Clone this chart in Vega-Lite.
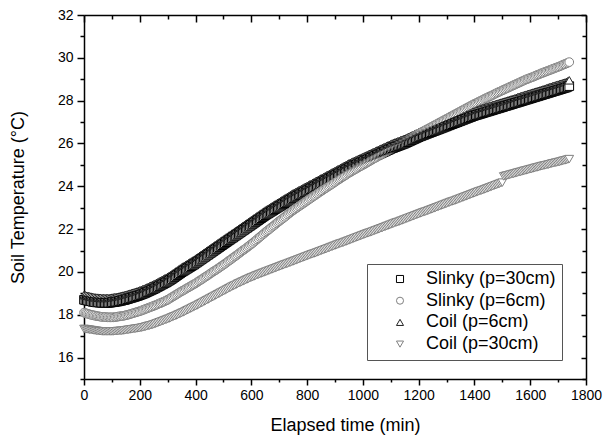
{
"$schema": "https://vega.github.io/schema/vega-lite/v6.json",
"width": 502, "height": 364,
"autosize": {"type": "none"},
"padding": {"left": 84, "top": 15, "right": 18, "bottom": 60},
"background": "white",
"config": {"view": {"stroke": null}, "font": "Liberation Sans"},
"data": {"values": [
{"t":0,"a":18.70,"b":18.10,"c":18.92,"d":17.34},
{"t":5,"a":18.69,"b":18.08,"c":18.91,"d":17.33},
{"t":10,"a":18.67,"b":18.06,"c":18.89,"d":17.32},
{"t":15,"a":18.66,"b":18.04,"c":18.88,"d":17.31},
{"t":20,"a":18.64,"b":18.02,"c":18.86,"d":17.30},
{"t":25,"a":18.63,"b":18.00,"c":18.85,"d":17.29},
{"t":30,"a":18.61,"b":17.99,"c":18.83,"d":17.28},
{"t":35,"a":18.60,"b":17.97,"c":18.82,"d":17.27},
{"t":40,"a":18.59,"b":17.96,"c":18.81,"d":17.26},
{"t":45,"a":18.58,"b":17.94,"c":18.80,"d":17.25},
{"t":50,"a":18.58,"b":17.93,"c":18.80,"d":17.24},
{"t":55,"a":18.57,"b":17.92,"c":18.79,"d":17.23},
{"t":60,"a":18.57,"b":17.91,"c":18.79,"d":17.23},
{"t":65,"a":18.56,"b":17.90,"c":18.78,"d":17.22},
{"t":70,"a":18.56,"b":17.90,"c":18.78,"d":17.22},
{"t":75,"a":18.56,"b":17.89,"c":18.78,"d":17.22},
{"t":80,"a":18.56,"b":17.89,"c":18.78,"d":17.22},
{"t":85,"a":18.56,"b":17.88,"c":18.78,"d":17.22},
{"t":90,"a":18.56,"b":17.88,"c":18.78,"d":17.22},
{"t":95,"a":18.57,"b":17.88,"c":18.79,"d":17.22},
{"t":100,"a":18.58,"b":17.88,"c":18.80,"d":17.22},
{"t":105,"a":18.59,"b":17.88,"c":18.81,"d":17.22},
{"t":110,"a":18.60,"b":17.89,"c":18.82,"d":17.23},
{"t":115,"a":18.61,"b":17.90,"c":18.83,"d":17.23},
{"t":120,"a":18.62,"b":17.91,"c":18.84,"d":17.24},
{"t":125,"a":18.63,"b":17.92,"c":18.85,"d":17.24},
{"t":130,"a":18.65,"b":17.93,"c":18.87,"d":17.25},
{"t":135,"a":18.66,"b":17.94,"c":18.88,"d":17.25},
{"t":140,"a":18.68,"b":17.95,"c":18.90,"d":17.26},
{"t":145,"a":18.69,"b":17.96,"c":18.91,"d":17.27},
{"t":150,"a":18.71,"b":17.98,"c":18.93,"d":17.28},
{"t":155,"a":18.73,"b":17.99,"c":18.95,"d":17.29},
{"t":160,"a":18.75,"b":18.01,"c":18.97,"d":17.30},
{"t":165,"a":18.77,"b":18.03,"c":18.99,"d":17.31},
{"t":170,"a":18.79,"b":18.05,"c":19.01,"d":17.32},
{"t":175,"a":18.81,"b":18.07,"c":19.03,"d":17.33},
{"t":180,"a":18.83,"b":18.09,"c":19.05,"d":17.34},
{"t":185,"a":18.85,"b":18.11,"c":19.07,"d":17.35},
{"t":190,"a":18.87,"b":18.13,"c":19.09,"d":17.36},
{"t":195,"a":18.89,"b":18.15,"c":19.11,"d":17.37},
{"t":200,"a":18.92,"b":18.17,"c":19.14,"d":17.38},
{"t":205,"a":18.94,"b":18.19,"c":19.16,"d":17.39},
{"t":210,"a":18.97,"b":18.22,"c":19.19,"d":17.41},
{"t":215,"a":18.99,"b":18.24,"c":19.21,"d":17.42},
{"t":220,"a":19.02,"b":18.27,"c":19.24,"d":17.44},
{"t":225,"a":19.05,"b":18.29,"c":19.27,"d":17.46},
{"t":230,"a":19.08,"b":18.32,"c":19.30,"d":17.48},
{"t":235,"a":19.11,"b":18.34,"c":19.33,"d":17.49},
{"t":240,"a":19.14,"b":18.37,"c":19.36,"d":17.51},
{"t":245,"a":19.17,"b":18.39,"c":19.39,"d":17.53},
{"t":250,"a":19.20,"b":18.42,"c":19.42,"d":17.55},
{"t":255,"a":19.23,"b":18.44,"c":19.45,"d":17.57},
{"t":260,"a":19.27,"b":18.47,"c":19.49,"d":17.60},
{"t":265,"a":19.30,"b":18.50,"c":19.52,"d":17.62},
{"t":270,"a":19.34,"b":18.53,"c":19.56,"d":17.65},
{"t":275,"a":19.37,"b":18.55,"c":19.59,"d":17.67},
{"t":280,"a":19.41,"b":18.58,"c":19.63,"d":17.70},
{"t":285,"a":19.44,"b":18.61,"c":19.66,"d":17.72},
{"t":290,"a":19.48,"b":18.64,"c":19.70,"d":17.75},
{"t":295,"a":19.51,"b":18.67,"c":19.73,"d":17.77},
{"t":300,"a":19.55,"b":18.70,"c":19.77,"d":17.80},
{"t":305,"a":19.59,"b":18.74,"c":19.81,"d":17.82},
{"t":310,"a":19.63,"b":18.78,"c":19.85,"d":17.85},
{"t":315,"a":19.67,"b":18.82,"c":19.89,"d":17.88},
{"t":320,"a":19.72,"b":18.86,"c":19.94,"d":17.91},
{"t":325,"a":19.76,"b":18.90,"c":19.98,"d":17.93},
{"t":330,"a":19.81,"b":18.94,"c":20.03,"d":17.96},
{"t":335,"a":19.85,"b":18.98,"c":20.07,"d":17.99},
{"t":340,"a":19.90,"b":19.02,"c":20.12,"d":18.02},
{"t":345,"a":19.94,"b":19.06,"c":20.16,"d":18.05},
{"t":350,"a":19.99,"b":19.10,"c":20.21,"d":18.08},
{"t":355,"a":20.03,"b":19.13,"c":20.25,"d":18.11},
{"t":360,"a":20.07,"b":19.17,"c":20.29,"d":18.14},
{"t":365,"a":20.11,"b":19.21,"c":20.33,"d":18.17},
{"t":370,"a":20.15,"b":19.25,"c":20.37,"d":18.21},
{"t":375,"a":20.19,"b":19.28,"c":20.41,"d":18.24},
{"t":380,"a":20.23,"b":19.32,"c":20.45,"d":18.27},
{"t":385,"a":20.27,"b":19.36,"c":20.49,"d":18.30},
{"t":390,"a":20.31,"b":19.40,"c":20.53,"d":18.34},
{"t":395,"a":20.35,"b":19.43,"c":20.57,"d":18.37},
{"t":400,"a":20.40,"b":19.47,"c":20.62,"d":18.40},
{"t":405,"a":20.44,"b":19.51,"c":20.66,"d":18.43},
{"t":410,"a":20.49,"b":19.56,"c":20.71,"d":18.47},
{"t":415,"a":20.53,"b":19.60,"c":20.75,"d":18.50},
{"t":420,"a":20.58,"b":19.64,"c":20.80,"d":18.54},
{"t":425,"a":20.62,"b":19.68,"c":20.84,"d":18.57},
{"t":430,"a":20.67,"b":19.73,"c":20.89,"d":18.61},
{"t":435,"a":20.71,"b":19.77,"c":20.93,"d":18.64},
{"t":440,"a":20.76,"b":19.81,"c":20.98,"d":18.68},
{"t":445,"a":20.80,"b":19.85,"c":21.02,"d":18.71},
{"t":450,"a":20.85,"b":19.90,"c":21.07,"d":18.75},
{"t":455,"a":20.89,"b":19.94,"c":21.11,"d":18.78},
{"t":460,"a":20.94,"b":19.99,"c":21.16,"d":18.82},
{"t":465,"a":20.98,"b":20.03,"c":21.20,"d":18.85},
{"t":470,"a":21.03,"b":20.07,"c":21.25,"d":18.89},
{"t":475,"a":21.07,"b":20.11,"c":21.29,"d":18.92},
{"t":480,"a":21.12,"b":20.16,"c":21.34,"d":18.96},
{"t":485,"a":21.16,"b":20.20,"c":21.38,"d":18.99},
{"t":490,"a":21.21,"b":20.25,"c":21.43,"d":19.03},
{"t":495,"a":21.25,"b":20.29,"c":21.47,"d":19.06},
{"t":500,"a":21.30,"b":20.34,"c":21.52,"d":19.10},
{"t":505,"a":21.34,"b":20.38,"c":21.56,"d":19.13},
{"t":510,"a":21.39,"b":20.43,"c":21.61,"d":19.17},
{"t":515,"a":21.43,"b":20.48,"c":21.65,"d":19.20},
{"t":520,"a":21.48,"b":20.53,"c":21.70,"d":19.24},
{"t":525,"a":21.52,"b":20.57,"c":21.74,"d":19.27},
{"t":530,"a":21.57,"b":20.62,"c":21.79,"d":19.31},
{"t":535,"a":21.61,"b":20.67,"c":21.83,"d":19.34},
{"t":540,"a":21.66,"b":20.72,"c":21.88,"d":19.37},
{"t":545,"a":21.70,"b":20.76,"c":21.92,"d":19.40},
{"t":550,"a":21.75,"b":20.81,"c":21.97,"d":19.44},
{"t":555,"a":21.79,"b":20.86,"c":22.01,"d":19.47},
{"t":560,"a":21.84,"b":20.91,"c":22.06,"d":19.50},
{"t":565,"a":21.88,"b":20.96,"c":22.10,"d":19.53},
{"t":570,"a":21.93,"b":21.01,"c":22.15,"d":19.56},
{"t":575,"a":21.97,"b":21.05,"c":22.19,"d":19.59},
{"t":580,"a":22.02,"b":21.10,"c":22.24,"d":19.62},
{"t":585,"a":22.06,"b":21.15,"c":22.28,"d":19.65},
{"t":590,"a":22.11,"b":21.20,"c":22.33,"d":19.68},
{"t":595,"a":22.15,"b":21.25,"c":22.37,"d":19.71},
{"t":600,"a":22.20,"b":21.30,"c":22.42,"d":19.74},
{"t":605,"a":22.24,"b":21.35,"c":22.46,"d":19.76},
{"t":610,"a":22.29,"b":21.41,"c":22.51,"d":19.79},
{"t":615,"a":22.33,"b":21.46,"c":22.55,"d":19.82},
{"t":620,"a":22.38,"b":21.52,"c":22.60,"d":19.85},
{"t":625,"a":22.42,"b":21.57,"c":22.64,"d":19.87},
{"t":630,"a":22.47,"b":21.63,"c":22.69,"d":19.90},
{"t":635,"a":22.51,"b":21.68,"c":22.73,"d":19.92},
{"t":640,"a":22.56,"b":21.74,"c":22.78,"d":19.95},
{"t":645,"a":22.60,"b":21.79,"c":22.82,"d":19.97},
{"t":650,"a":22.65,"b":21.85,"c":22.87,"d":20.00},
{"t":655,"a":22.69,"b":21.90,"c":22.91,"d":20.02},
{"t":660,"a":22.73,"b":21.95,"c":22.95,"d":20.05},
{"t":665,"a":22.77,"b":22.00,"c":22.99,"d":20.07},
{"t":670,"a":22.81,"b":22.06,"c":23.03,"d":20.10},
{"t":675,"a":22.85,"b":22.11,"c":23.07,"d":20.12},
{"t":680,"a":22.89,"b":22.16,"c":23.11,"d":20.15},
{"t":685,"a":22.93,"b":22.21,"c":23.15,"d":20.17},
{"t":690,"a":22.97,"b":22.27,"c":23.19,"d":20.20},
{"t":695,"a":23.01,"b":22.32,"c":23.23,"d":20.22},
{"t":700,"a":23.05,"b":22.37,"c":23.27,"d":20.25},
{"t":705,"a":23.09,"b":22.42,"c":23.31,"d":20.27},
{"t":710,"a":23.13,"b":22.47,"c":23.35,"d":20.30},
{"t":715,"a":23.17,"b":22.52,"c":23.39,"d":20.32},
{"t":720,"a":23.21,"b":22.57,"c":23.43,"d":20.35},
{"t":725,"a":23.25,"b":22.62,"c":23.47,"d":20.37},
{"t":730,"a":23.29,"b":22.68,"c":23.51,"d":20.39},
{"t":735,"a":23.33,"b":22.73,"c":23.55,"d":20.42},
{"t":740,"a":23.37,"b":22.78,"c":23.59,"d":20.44},
{"t":745,"a":23.41,"b":22.83,"c":23.63,"d":20.47},
{"t":750,"a":23.45,"b":22.88,"c":23.67,"d":20.49},
{"t":755,"a":23.48,"b":22.92,"c":23.70,"d":20.52},
{"t":760,"a":23.52,"b":22.97,"c":23.74,"d":20.54},
{"t":765,"a":23.55,"b":23.01,"c":23.77,"d":20.57},
{"t":770,"a":23.59,"b":23.06,"c":23.81,"d":20.59},
{"t":775,"a":23.62,"b":23.10,"c":23.84,"d":20.62},
{"t":780,"a":23.66,"b":23.15,"c":23.88,"d":20.64},
{"t":785,"a":23.69,"b":23.19,"c":23.91,"d":20.67},
{"t":790,"a":23.73,"b":23.24,"c":23.95,"d":20.69},
{"t":795,"a":23.76,"b":23.28,"c":23.98,"d":20.72},
{"t":800,"a":23.80,"b":23.33,"c":24.02,"d":20.74},
{"t":805,"a":23.83,"b":23.37,"c":24.05,"d":20.77},
{"t":810,"a":23.87,"b":23.42,"c":24.09,"d":20.79},
{"t":815,"a":23.90,"b":23.46,"c":24.12,"d":20.82},
{"t":820,"a":23.94,"b":23.51,"c":24.16,"d":20.84},
{"t":825,"a":23.97,"b":23.55,"c":24.19,"d":20.86},
{"t":830,"a":24.01,"b":23.59,"c":24.23,"d":20.88},
{"t":835,"a":24.04,"b":23.64,"c":24.26,"d":20.91},
{"t":840,"a":24.08,"b":23.68,"c":24.30,"d":20.93},
{"t":845,"a":24.11,"b":23.73,"c":24.33,"d":20.96},
{"t":850,"a":24.15,"b":23.77,"c":24.37,"d":20.98},
{"t":855,"a":24.18,"b":23.81,"c":24.40,"d":21.01},
{"t":860,"a":24.22,"b":23.86,"c":24.44,"d":21.03},
{"t":865,"a":24.25,"b":23.90,"c":24.47,"d":21.06},
{"t":870,"a":24.29,"b":23.94,"c":24.51,"d":21.08},
{"t":875,"a":24.32,"b":23.99,"c":24.54,"d":21.11},
{"t":880,"a":24.36,"b":24.03,"c":24.58,"d":21.13},
{"t":885,"a":24.39,"b":24.07,"c":24.61,"d":21.16},
{"t":890,"a":24.43,"b":24.11,"c":24.65,"d":21.18},
{"t":895,"a":24.46,"b":24.16,"c":24.68,"d":21.21},
{"t":900,"a":24.50,"b":24.20,"c":24.72,"d":21.23},
{"t":905,"a":24.53,"b":24.25,"c":24.75,"d":21.26},
{"t":910,"a":24.57,"b":24.29,"c":24.79,"d":21.28},
{"t":915,"a":24.60,"b":24.33,"c":24.82,"d":21.31},
{"t":920,"a":24.64,"b":24.37,"c":24.86,"d":21.33},
{"t":925,"a":24.67,"b":24.42,"c":24.89,"d":21.35},
{"t":930,"a":24.71,"b":24.46,"c":24.93,"d":21.37},
{"t":935,"a":24.74,"b":24.50,"c":24.96,"d":21.40},
{"t":940,"a":24.78,"b":24.54,"c":25.00,"d":21.42},
{"t":945,"a":24.81,"b":24.59,"c":25.03,"d":21.45},
{"t":950,"a":24.85,"b":24.63,"c":25.07,"d":21.47},
{"t":955,"a":24.88,"b":24.66,"c":25.10,"d":21.50},
{"t":960,"a":24.91,"b":24.70,"c":25.13,"d":21.52},
{"t":965,"a":24.94,"b":24.74,"c":25.16,"d":21.55},
{"t":970,"a":24.97,"b":24.78,"c":25.19,"d":21.57},
{"t":975,"a":25.00,"b":24.81,"c":25.22,"d":21.60},
{"t":980,"a":25.03,"b":24.85,"c":25.25,"d":21.62},
{"t":985,"a":25.06,"b":24.89,"c":25.28,"d":21.65},
{"t":990,"a":25.09,"b":24.93,"c":25.31,"d":21.67},
{"t":995,"a":25.12,"b":24.96,"c":25.34,"d":21.70},
{"t":1000,"a":25.15,"b":25.00,"c":25.37,"d":21.72},
{"t":1005,"a":25.18,"b":25.03,"c":25.40,"d":21.75},
{"t":1010,"a":25.21,"b":25.07,"c":25.43,"d":21.77},
{"t":1015,"a":25.24,"b":25.11,"c":25.46,"d":21.80},
{"t":1020,"a":25.27,"b":25.15,"c":25.49,"d":21.82},
{"t":1025,"a":25.30,"b":25.18,"c":25.52,"d":21.84},
{"t":1030,"a":25.33,"b":25.22,"c":25.55,"d":21.86},
{"t":1035,"a":25.36,"b":25.26,"c":25.58,"d":21.89},
{"t":1040,"a":25.39,"b":25.30,"c":25.61,"d":21.91},
{"t":1045,"a":25.42,"b":25.33,"c":25.64,"d":21.94},
{"t":1050,"a":25.45,"b":25.37,"c":25.67,"d":21.96},
{"t":1055,"a":25.48,"b":25.41,"c":25.70,"d":21.99},
{"t":1060,"a":25.51,"b":25.45,"c":25.73,"d":22.01},
{"t":1065,"a":25.54,"b":25.48,"c":25.76,"d":22.04},
{"t":1070,"a":25.57,"b":25.52,"c":25.79,"d":22.06},
{"t":1075,"a":25.60,"b":25.56,"c":25.82,"d":22.09},
{"t":1080,"a":25.63,"b":25.60,"c":25.85,"d":22.11},
{"t":1085,"a":25.66,"b":25.63,"c":25.88,"d":22.14},
{"t":1090,"a":25.69,"b":25.67,"c":25.91,"d":22.16},
{"t":1095,"a":25.72,"b":25.71,"c":25.94,"d":22.19},
{"t":1100,"a":25.75,"b":25.75,"c":25.97,"d":22.21},
{"t":1105,"a":25.78,"b":25.78,"c":26.00,"d":22.24},
{"t":1110,"a":25.80,"b":25.82,"c":26.02,"d":22.26},
{"t":1115,"a":25.83,"b":25.85,"c":26.05,"d":22.29},
{"t":1120,"a":25.85,"b":25.88,"c":26.07,"d":22.31},
{"t":1125,"a":25.88,"b":25.92,"c":26.10,"d":22.33},
{"t":1130,"a":25.90,"b":25.95,"c":26.12,"d":22.35},
{"t":1135,"a":25.93,"b":25.98,"c":26.15,"d":22.38},
{"t":1140,"a":25.95,"b":26.01,"c":26.17,"d":22.40},
{"t":1145,"a":25.98,"b":26.05,"c":26.20,"d":22.43},
{"t":1150,"a":26.00,"b":26.08,"c":26.22,"d":22.45},
{"t":1155,"a":26.03,"b":26.12,"c":26.25,"d":22.48},
{"t":1160,"a":26.06,"b":26.15,"c":26.28,"d":22.50},
{"t":1165,"a":26.09,"b":26.19,"c":26.31,"d":22.53},
{"t":1170,"a":26.12,"b":26.23,"c":26.34,"d":22.55},
{"t":1175,"a":26.15,"b":26.26,"c":26.37,"d":22.58},
{"t":1180,"a":26.18,"b":26.30,"c":26.40,"d":22.60},
{"t":1185,"a":26.21,"b":26.34,"c":26.43,"d":22.63},
{"t":1190,"a":26.24,"b":26.38,"c":26.46,"d":22.65},
{"t":1195,"a":26.27,"b":26.41,"c":26.49,"d":22.68},
{"t":1200,"a":26.30,"b":26.45,"c":26.52,"d":22.70},
{"t":1205,"a":26.33,"b":26.49,"c":26.55,"d":22.73},
{"t":1210,"a":26.35,"b":26.52,"c":26.57,"d":22.75},
{"t":1215,"a":26.38,"b":26.56,"c":26.60,"d":22.78},
{"t":1220,"a":26.40,"b":26.59,"c":26.62,"d":22.80},
{"t":1225,"a":26.43,"b":26.63,"c":26.65,"d":22.82},
{"t":1230,"a":26.45,"b":26.66,"c":26.67,"d":22.84},
{"t":1235,"a":26.48,"b":26.70,"c":26.70,"d":22.87},
{"t":1240,"a":26.50,"b":26.73,"c":26.72,"d":22.89},
{"t":1245,"a":26.53,"b":26.77,"c":26.75,"d":22.92},
{"t":1250,"a":26.55,"b":26.80,"c":26.77,"d":22.94},
{"t":1255,"a":26.58,"b":26.84,"c":26.80,"d":22.97},
{"t":1260,"a":26.60,"b":26.87,"c":26.82,"d":22.99},
{"t":1265,"a":26.63,"b":26.91,"c":26.85,"d":23.02},
{"t":1270,"a":26.65,"b":26.94,"c":26.87,"d":23.04},
{"t":1275,"a":26.68,"b":26.98,"c":26.90,"d":23.07},
{"t":1280,"a":26.70,"b":27.01,"c":26.92,"d":23.09},
{"t":1285,"a":26.73,"b":27.05,"c":26.95,"d":23.12},
{"t":1290,"a":26.75,"b":27.08,"c":26.97,"d":23.14},
{"t":1295,"a":26.78,"b":27.12,"c":27.00,"d":23.17},
{"t":1300,"a":26.80,"b":27.15,"c":27.02,"d":23.19},
{"t":1305,"a":26.83,"b":27.19,"c":27.05,"d":23.22},
{"t":1310,"a":26.85,"b":27.22,"c":27.07,"d":23.24},
{"t":1315,"a":26.88,"b":27.26,"c":27.10,"d":23.27},
{"t":1320,"a":26.90,"b":27.29,"c":27.12,"d":23.29},
{"t":1325,"a":26.93,"b":27.33,"c":27.15,"d":23.31},
{"t":1330,"a":26.95,"b":27.36,"c":27.17,"d":23.33},
{"t":1335,"a":26.98,"b":27.40,"c":27.20,"d":23.36},
{"t":1340,"a":27.00,"b":27.43,"c":27.22,"d":23.38},
{"t":1345,"a":27.03,"b":27.47,"c":27.25,"d":23.41},
{"t":1350,"a":27.05,"b":27.50,"c":27.27,"d":23.43},
{"t":1355,"a":27.08,"b":27.54,"c":27.30,"d":23.46},
{"t":1360,"a":27.10,"b":27.57,"c":27.32,"d":23.48},
{"t":1365,"a":27.13,"b":27.61,"c":27.35,"d":23.51},
{"t":1370,"a":27.15,"b":27.64,"c":27.37,"d":23.53},
{"t":1375,"a":27.18,"b":27.68,"c":27.40,"d":23.56},
{"t":1380,"a":27.20,"b":27.71,"c":27.42,"d":23.58},
{"t":1385,"a":27.23,"b":27.75,"c":27.45,"d":23.61},
{"t":1390,"a":27.25,"b":27.78,"c":27.47,"d":23.63},
{"t":1395,"a":27.28,"b":27.82,"c":27.50,"d":23.66},
{"t":1400,"a":27.30,"b":27.85,"c":27.52,"d":23.68},
{"t":1405,"a":27.32,"b":27.88,"c":27.55,"d":23.71},
{"t":1410,"a":27.34,"b":27.91,"c":27.57,"d":23.73},
{"t":1415,"a":27.36,"b":27.95,"c":27.59,"d":23.76},
{"t":1420,"a":27.38,"b":27.98,"c":27.61,"d":23.78},
{"t":1425,"a":27.40,"b":28.01,"c":27.63,"d":23.80},
{"t":1430,"a":27.42,"b":28.04,"c":27.65,"d":23.82},
{"t":1435,"a":27.44,"b":28.08,"c":27.67,"d":23.85},
{"t":1440,"a":27.46,"b":28.11,"c":27.69,"d":23.87},
{"t":1445,"a":27.48,"b":28.14,"c":27.71,"d":23.90},
{"t":1450,"a":27.50,"b":28.17,"c":27.73,"d":23.92},
{"t":1455,"a":27.52,"b":28.20,"c":27.75,"d":23.95},
{"t":1460,"a":27.54,"b":28.23,"c":27.77,"d":23.97},
{"t":1465,"a":27.56,"b":28.26,"c":27.79,"d":24.00},
{"t":1470,"a":27.58,"b":28.29,"c":27.81,"d":24.02},
{"t":1475,"a":27.60,"b":28.33,"c":27.83,"d":24.05},
{"t":1480,"a":27.62,"b":28.36,"c":27.85,"d":24.07},
{"t":1485,"a":27.64,"b":28.39,"c":27.87,"d":24.10},
{"t":1490,"a":27.66,"b":28.42,"c":27.89,"d":24.12},
{"t":1495,"a":27.68,"b":28.45,"c":27.91,"d":24.15},
{"t":1500,"a":27.70,"b":28.48,"c":27.93,"d":24.17},
{"t":1505,"a":27.72,"b":28.51,"c":27.95,"d":24.46},
{"t":1510,"a":27.74,"b":28.54,"c":27.97,"d":24.48},
{"t":1515,"a":27.76,"b":28.57,"c":27.99,"d":24.50},
{"t":1520,"a":27.78,"b":28.60,"c":28.01,"d":24.51},
{"t":1525,"a":27.80,"b":28.63,"c":28.03,"d":24.53},
{"t":1530,"a":27.82,"b":28.66,"c":28.05,"d":24.55},
{"t":1535,"a":27.84,"b":28.69,"c":28.07,"d":24.57},
{"t":1540,"a":27.86,"b":28.72,"c":28.09,"d":24.58},
{"t":1545,"a":27.88,"b":28.75,"c":28.11,"d":24.60},
{"t":1550,"a":27.90,"b":28.78,"c":28.13,"d":24.62},
{"t":1555,"a":27.92,"b":28.81,"c":28.16,"d":24.64},
{"t":1560,"a":27.94,"b":28.84,"c":28.18,"d":24.66},
{"t":1565,"a":27.96,"b":28.87,"c":28.20,"d":24.67},
{"t":1570,"a":27.98,"b":28.90,"c":28.22,"d":24.69},
{"t":1575,"a":28.00,"b":28.93,"c":28.24,"d":24.71},
{"t":1580,"a":28.02,"b":28.96,"c":28.26,"d":24.73},
{"t":1585,"a":28.04,"b":28.99,"c":28.28,"d":24.74},
{"t":1590,"a":28.06,"b":29.01,"c":28.30,"d":24.76},
{"t":1595,"a":28.08,"b":29.04,"c":28.32,"d":24.78},
{"t":1600,"a":28.10,"b":29.06,"c":28.34,"d":24.80},
{"t":1605,"a":28.12,"b":29.09,"c":28.36,"d":24.81},
{"t":1610,"a":28.14,"b":29.11,"c":28.38,"d":24.83},
{"t":1615,"a":28.16,"b":29.14,"c":28.40,"d":24.85},
{"t":1620,"a":28.18,"b":29.17,"c":28.42,"d":24.87},
{"t":1625,"a":28.20,"b":29.20,"c":28.44,"d":24.88},
{"t":1630,"a":28.22,"b":29.22,"c":28.46,"d":24.90},
{"t":1635,"a":28.24,"b":29.25,"c":28.48,"d":24.92},
{"t":1640,"a":28.26,"b":29.28,"c":28.50,"d":24.94},
{"t":1645,"a":28.28,"b":29.30,"c":28.52,"d":24.95},
{"t":1650,"a":28.30,"b":29.33,"c":28.54,"d":24.97},
{"t":1655,"a":28.32,"b":29.35,"c":28.56,"d":24.98},
{"t":1660,"a":28.34,"b":29.38,"c":28.59,"d":25.00},
{"t":1665,"a":28.36,"b":29.40,"c":28.61,"d":25.01},
{"t":1670,"a":28.38,"b":29.43,"c":28.63,"d":25.03},
{"t":1675,"a":28.40,"b":29.45,"c":28.65,"d":25.05},
{"t":1680,"a":28.42,"b":29.48,"c":28.67,"d":25.07},
{"t":1685,"a":28.44,"b":29.50,"c":28.69,"d":25.08},
{"t":1690,"a":28.46,"b":29.53,"c":28.71,"d":25.10},
{"t":1695,"a":28.48,"b":29.55,"c":28.73,"d":25.11},
{"t":1700,"a":28.50,"b":29.58,"c":28.75,"d":25.13},
{"t":1705,"a":28.52,"b":29.60,"c":28.77,"d":25.14},
{"t":1710,"a":28.54,"b":29.63,"c":28.79,"d":25.16},
{"t":1715,"a":28.56,"b":29.66,"c":28.81,"d":25.18},
{"t":1720,"a":28.58,"b":29.69,"c":28.83,"d":25.20},
{"t":1725,"a":28.60,"b":29.71,"c":28.85,"d":25.21},
{"t":1730,"a":28.62,"b":29.74,"c":28.87,"d":25.23},
{"t":1735,"a":28.65,"b":29.77,"c":28.91,"d":25.25},
{"t":1740,"a":28.68,"b":29.80,"c":28.95,"d":25.27}
]},
"transform": [{"fold": ["a", "b", "c", "d"], "as": ["s", "v"]}],
"layer": [
{
"mark": {"type": "point", "filled": true, "fill": "white", "strokeWidth": 1, "size": 75, "opacity": 1},
"encoding": {
"x": {"field": "t", "type": "quantitative", "scale": {"domain": [0, 1800], "nice": false, "zero": false},
 "axis": {"orient": "bottom", "values": [0,100,200,300,400,500,600,700,800,900,1000,1100,1200,1300,1400,1500,1600,1700,1800],
  "format": "d", "labelExpr": "datum.value % 200 === 0 ? datum.label : ''",
  "tickSize": {"condition": {"test": "datum.value % 200 === 0", "value": 6}, "value": 3},
  "grid": false, "title": "Elapsed time (min)", "titleFontSize": 18, "titleFontWeight": "normal", "titleColor": "black",
  "titleX": 261, "titlePadding": 14,
  "labelFontSize": 14, "labelColor": "black", "labelPadding": 3, "labelOverlap": false, "labelFlush": false,
  "domainColor": "black", "domainWidth": 1.5, "tickColor": "black", "tickWidth": 1.5}},
"y": {"field": "v", "type": "quantitative", "scale": {"domain": [15, 32], "nice": false, "zero": false},
 "axis": {"orient": "left", "values": [15,16,17,18,19,20,21,22,23,24,25,26,27,28,29,30,31,32],
  "labelExpr": "datum.value % 2 === 0 ? datum.label : ''",
  "tickSize": {"condition": {"test": "datum.value % 2 === 0", "value": 7}, "value": 4},
  "grid": false, "title": "Soil Temperature (°C)", "titleFontSize": 18, "titleFontWeight": "normal", "titleColor": "black",
  "titlePadding": 30,
  "labelFontSize": 14, "labelColor": "black", "labelPadding": 4, "labelOverlap": false, "labelFlush": false,
  "domainColor": "black", "domainWidth": 1.5, "tickColor": "black", "tickWidth": 1.5}},
"shape": {"field": "s", "type": "nominal",
 "scale": {"domain": ["a", "b", "c", "d"], "range": ["square", "circle", "triangle-up", "triangle-down"]},
 "legend": {"title": null, "orient": "none", "legendX": 283, "legendY": 249, "padding": 6,
  "strokeColor": "#555555", "fillColor": "white",
  "labelExpr": "{'a':'Slinky (p=30cm)','b':'Slinky (p=6cm)','c':'Coil (p=6cm)','d':'Coil (p=30cm)'}[datum.value]",
  "labelFontSize": 18, "labelColor": "black", "labelLimit": 0, "labelOffset": 17,
  "symbolSize": 50, "symbolOffset": 18, "symbolStrokeWidth": 1, "symbolFillColor": "white", "symbolStrokeColor": "#666666",
  "rowPadding": 3.7}},
"stroke": {"field": "s", "type": "nominal",
 "scale": {"domain": ["a", "b", "c", "d"], "range": ["#000000", "#808080", "#222222", "#808080"]},
 "legend": {"title": null, "orient": "none", "legendX": 283, "legendY": 249, "padding": 6,
  "strokeColor": "#555555", "fillColor": "white",
  "labelExpr": "{'a':'Slinky (p=30cm)','b':'Slinky (p=6cm)','c':'Coil (p=6cm)','d':'Coil (p=30cm)'}[datum.value]",
  "labelFontSize": 18, "labelColor": "black", "labelLimit": 0, "labelOffset": 17,
  "symbolSize": 50, "symbolOffset": 18, "symbolStrokeWidth": 1, "symbolFillColor": "white", "symbolStrokeColor": "#666666",
  "rowPadding": 3.7}},
"order": [{"field": "s", "type": "nominal", "sort": "ascending"}, {"field": "t", "type": "quantitative", "sort": "ascending"}]
}
},
{
"mark": {"type": "point", "opacity": 0},
"encoding": {
"x": {"field": "t", "type": "quantitative",
 "axis": {"orient": "top", "values": [0,100,200,300,400,500,600,700,800,900,1000,1100,1200,1300,1400,1500,1600,1700,1800],
  "labels": false, "title": null, "grid": false,
  "tickSize": {"condition": {"test": "datum.value % 200 === 0", "value": -7}, "value": -4},
  "domainColor": "black", "domainWidth": 1.5, "tickColor": "black", "tickWidth": 1.5}},
"y": {"field": "v", "type": "quantitative",
 "axis": {"orient": "right", "values": [15,16,17,18,19,20,21,22,23,24,25,26,27,28,29,30,31,32],
  "labels": false, "title": null, "grid": false,
  "tickSize": {"condition": {"test": "datum.value % 2 === 0", "value": -5}, "value": -4},
  "domainColor": "black", "domainWidth": 1.5, "tickColor": "black", "tickWidth": 1.5}}
}
}
],
"resolve": {"axis": {"x": "independent", "y": "independent"}}
}
